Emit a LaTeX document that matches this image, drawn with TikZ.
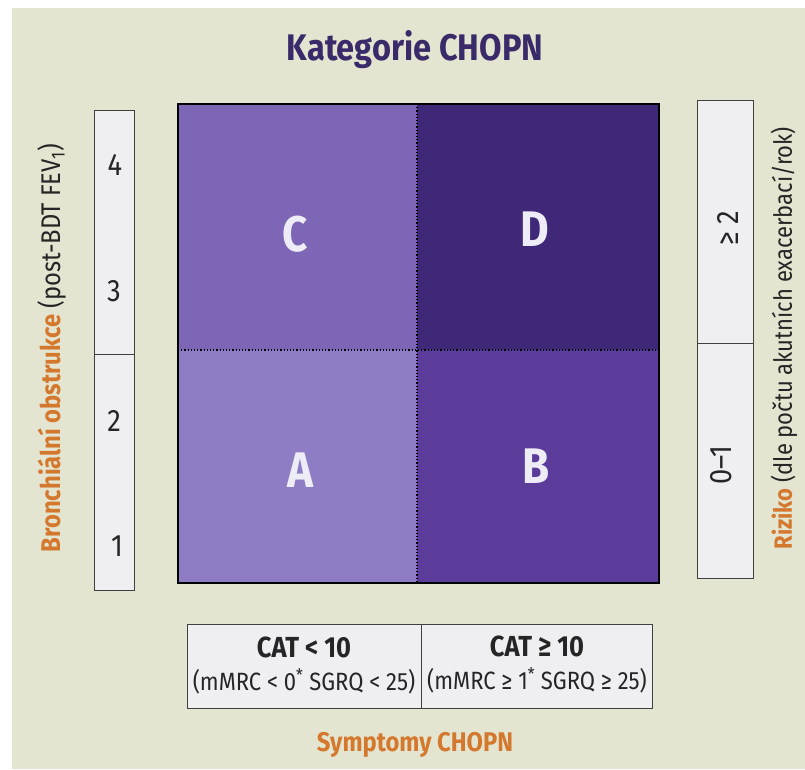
\documentclass[tikz,border=0pt]{standalone}
\usepackage{fontspec}
\setmainfont{Fira Sans}[FakeStretch=0.88]
\definecolor{paper}{HTML}{E4E5D0}
\definecolor{qA}{HTML}{8E7CC4}
\definecolor{qB}{HTML}{5B3C9B}
\definecolor{qC}{HTML}{7D66B5}
\definecolor{qD}{HTML}{3F2878}
\definecolor{titlec}{HTML}{3B2A6A}
\definecolor{orangec}{HTML}{D4782E}
\definecolor{boxfill}{HTML}{EFEFF1}
\definecolor{letterc}{HTML}{EEECF6}
\definecolor{textc}{HTML}{252525}
\tikzset{
  letter/.style={text=letterc,font=\fontsize{50}{54}\selectfont\bfseries},
  scalebox/.style={draw=black!75,line width=1pt,fill=boxfill,inner sep=0pt},
  numtxt/.style={text=textc,font=\fontsize{31}{34}\selectfont},
  sidetxt/.style={text=textc,rotate=90},
  bottxt/.style={text=textc,align=center,font=\fontsize{25}{33}\selectfont},
}
\begin{document}
\begin{tikzpicture}[x=1pt,y=-1pt]
\useasboundingbox (0,0) rectangle (805,769);
\fill[white] (0,0) rectangle (805,769);
\fill[paper] (12,8) rectangle (805,769);
% title
\node[text=titlec,font=\fontsize{37}{40}\selectfont\bfseries] (title) at (415,50) {Kategorie CHOPN};
% quadrants
\fill[qC] (178,104) rectangle (417,350);
\fill[qD] (417,104) rectangle (659,350);
\fill[qA] (178,350) rectangle (417,583);
\fill[qB] (417,350) rectangle (659,583);
\coordinate (mt) at (417,104);
\coordinate (mb) at (417,583);
\coordinate (ml) at (178,350);
\coordinate (mr) at (659,350);
\draw[black,line width=1.2pt,dotted] (mt) -- (mb);
\draw[black,line width=1.2pt,dotted] (ml) -- (mr);
\draw[black,line width=1.8pt] (178,104) rectangle (659,583);
\node[letter] (C) at (295,234) {C};
\node[letter] (D) at (535,229) {D};
\node[letter] (A) at (300,470) {A};
\node[letter] (B) at (536,466) {B};
% left scale
\draw[scalebox] (94,110) rectangle (134,590);
\coordinate (ll) at (94,354);
\coordinate (lr) at (134,354);
\draw[black!75,line width=1pt] (ll) -- (lr);
\node[numtxt] (n4) at (115,165) {4};
\node[numtxt] (n3) at (114,291) {3};
\node[numtxt] (n2) at (114,421) {2};
\node[numtxt] (n1) at (117,546) {1};
\node[sidetxt,font=\fontsize{27}{30}\selectfont] (leftlab) at (52,348) {\textcolor{orangec}{\bfseries Bronchiální obstrukce} (post-BDT FEV\textsubscript{1})};
% right scale
\draw[scalebox] (697,100) rectangle (753,578);
\coordinate (rl) at (697,343);
\coordinate (rr) at (753,343);
\draw[black!75,line width=1pt] (rl) -- (rr);
\node[numtxt,rotate=90] (r2) at (728,228) {≥ 2};
\node[numtxt,rotate=90] (r01) at (721,465) {0–1};
\node[sidetxt,font=\fontsize{25}{28}\selectfont] (rightlab) at (784,338) {\textcolor{orangec}{\bfseries Riziko} (dle počtu akutních exacerbací/rok)};
% bottom box
\draw[scalebox] (187,624) rectangle (652,708);
\coordinate (bt) at (421,624);
\coordinate (bb) at (421,708);
\draw[black!75,line width=1pt] (bt) -- (bb);
\node[bottxt] (bl) at (304,666) {{\fontsize{29}{33}\selectfont\bfseries CAT < 10}\\(mMRC < 0\textsuperscript{*} SGRQ < 25)};
\node[bottxt] (br) at (537,665) {{\fontsize{29}{33}\selectfont\bfseries CAT ≥ 10}\\(mMRC ≥ 1\textsuperscript{*} SGRQ ≥ 25)};
\node[text=orangec,font=\fontsize{27}{30}\selectfont\bfseries] (symp) at (415,745) {Symptomy CHOPN};
\end{tikzpicture}
\end{document}
